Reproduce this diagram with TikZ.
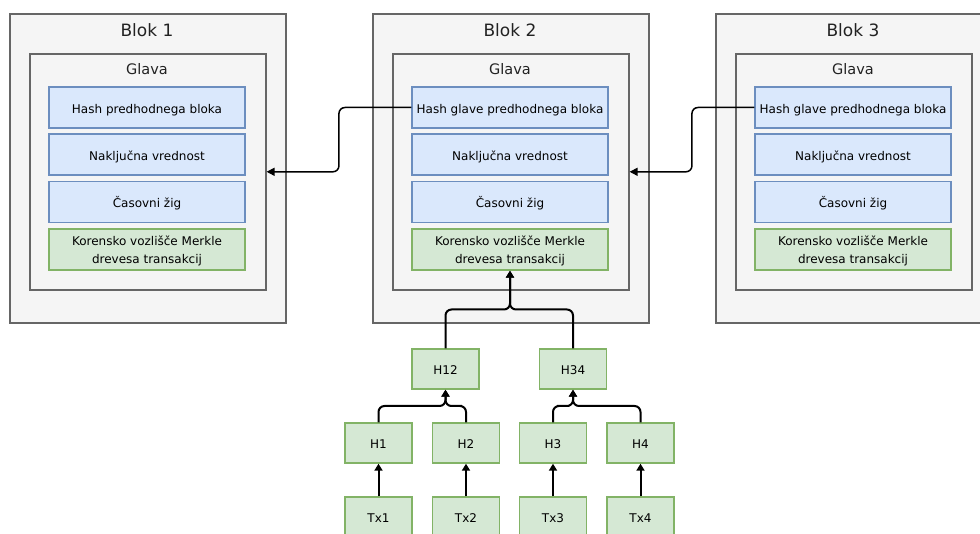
\documentclass[tikz,border=0pt]{standalone}
\usepackage{fontspec}
\setmainfont{DejaVu Sans}
\usetikzlibrary{arrows.meta,calc}

\definecolor{blkfill}{HTML}{F5F5F5}
\definecolor{blkline}{HTML}{666666}
\definecolor{blkfont}{HTML}{222222}
\definecolor{bluefill}{HTML}{DAE8FC}
\definecolor{blueline}{HTML}{6C8EBF}
\definecolor{greenfill}{HTML}{D5E8D4}
\definecolor{greenline}{HTML}{82B366}

\tikzset{
  blockbox/.style={draw=blkline, fill=blkfill, line width=1.6pt, inner sep=0pt,
    anchor=north west},
  headbox/.style={draw=blkline, fill=blkfill, line width=1.6pt, inner sep=0pt,
    anchor=north west, minimum width=236pt, minimum height=236pt},
  blocktitle/.style={text=blkfont, font=\fontsize{17}{20}\selectfont, inner sep=0pt},
  headtitle/.style={text=blkfont, font=\fontsize{14.5}{18}\selectfont, inner sep=0pt},
  bluerow/.style={draw=blueline, fill=bluefill, line width=1.4pt, inner sep=0pt,
    minimum width=196pt, minimum height=41pt, text height=12pt, text depth=0pt,
    font=\fontsize{12}{14.5}\selectfont},
  greenrow/.style={draw=greenline, fill=greenfill, line width=1.4pt, inner sep=0pt,
    minimum width=196pt, minimum height=41pt, align=center,
    text height=29pt, text depth=0pt, font=\fontsize{12}{18}\selectfont},
  hashbox/.style={draw=greenline, fill=greenfill, line width=1.4pt, inner sep=0pt,
    minimum width=67pt, minimum height=40pt, text height=11pt, text depth=0pt,
    font=\fontsize{12}{14.5}\selectfont},
  chainlink/.style={line width=1.5pt, rounded corners=6pt,
    -{Triangle[length=8pt,width=8pt]}},
  treelink/.style={line width=2pt, rounded corners=6pt,
    -{Triangle[length=7pt,width=8pt]}},
}

\begin{document}
\begin{tikzpicture}[x=1pt,y=-1pt]
\useasboundingbox (0,0) rectangle (980,534);
\clip (0,0) rectangle (980,534);

% the three blocks with their headers
\foreach \lx/\i/\first in {9/1/{Hash predhodnega bloka},
                            372/2/{Hash glave predhodnega bloka},
                            715/3/{Hash glave predhodnega bloka}}{
  \node[blockbox, minimum width=276pt, minimum height=309pt] (blk\i) at (\lx,13) {};
  \node[blocktitle] (bt\i) at (\lx+138,30.5) {Blok \i};
  \node[headbox] (gl\i) at (\lx+20,53) {};
  \node[headtitle] (gt\i) at (\lx+138,69) {Glava};
  \node[bluerow] (hp\i) at (\lx+138,107.5) {\first};
  \node[bluerow] (nv\i) at (\lx+138,154.5) {Naključna vrednost};
  \node[bluerow] (cz\i) at (\lx+138,202) {Časovni žig};
  \node[greenrow] (mr\i) at (\lx+138,249.5) {Korensko vozlišče Merkle\\drevesa transakcij};
}

% links to the previous block's header
\draw[chainlink] (hp2.west) -| ($(hp2.west)!0.5!(gl1.east)$) |- (gl1.east);
\draw[chainlink] (hp3.west) -| ($(hp3.west)!0.5!(gl2.east)$) |- (gl2.east);

% Merkle tree of block 2
\node[hashbox] (h12) at (445.5,369) {H12};
\node[hashbox] (h34) at (573,369) {H34};
\node[hashbox] (h1) at (378.5,443) {H1};
\node[hashbox] (h2) at (466,443) {H2};
\node[hashbox] (h3) at (553,443) {H3};
\node[hashbox] (h4) at (640.5,443) {H4};
\node[hashbox] (tx1) at (378.5,517) {Tx1};
\node[hashbox] (tx2) at (466,517) {Tx2};
\node[hashbox] (tx3) at (553,517) {Tx3};
\node[hashbox] (tx4) at (640.5,517) {Tx4};

\draw[treelink] (h12.north) |- ($(h12.north)!0.5!(mr2.south)$) -| (mr2.south);
\draw[treelink] (h34.north) |- ($(h34.north)!0.5!(mr2.south)$) -| (mr2.south);
\draw[treelink] (h1.north) |- ($(h1.north)!0.5!(h12.south)$) -| (h12.south);
\draw[treelink] (h2.north) |- ($(h2.north)!0.5!(h12.south)$) -| (h12.south);
\draw[treelink] (h3.north) |- ($(h3.north)!0.5!(h34.south)$) -| (h34.south);
\draw[treelink] (h4.north) |- ($(h4.north)!0.5!(h34.south)$) -| (h34.south);
\draw[treelink] (tx1) -- (h1);
\draw[treelink] (tx2) -- (h2);
\draw[treelink] (tx3) -- (h3);
\draw[treelink] (tx4) -- (h4);
\end{tikzpicture}
\end{document}
